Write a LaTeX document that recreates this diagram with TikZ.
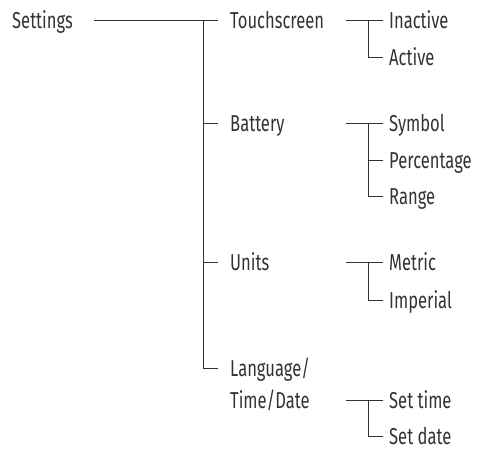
\documentclass[tikz,border=0pt]{standalone}
\usepackage{fontspec}
\setmainfont{Fira Sans}[FakeStretch=0.72]
\begin{document}
\begin{tikzpicture}[x=1pt,y=-1pt,
  lbl/.style={anchor=west, inner xsep=0pt, inner ysep=0pt, text height=16pt, text depth=0pt,
              font=\fontsize{23}{28}\selectfont, text=black!80},
  conn/.style={line width=0.9pt, draw=black!80}]
\useasboundingbox (0,0) rectangle (484,450);
% level 0 and 1
\node[lbl] (settings) at (12,20) {Settings};
\node[lbl] (touch) at (230,20) {Touchscreen};
\node[lbl] (battery) at (230,123) {Battery};
\node[lbl] (units) at (230,262) {Units};
\node[lbl] (lang) at (230,368) {Language/};
\node[lbl] (timedate) at (230,400) {Time/Date};
% level 2
\node[lbl] (inactive) at (389,20) {Inactive};
\node[lbl] (active) at (389,57) {Active};
\node[lbl] (symbol) at (389,123) {Symbol};
\node[lbl] (percentage) at (389,160) {Percentage};
\node[lbl] (range) at (389,196) {Range};
\node[lbl] (metric) at (389,262) {Metric};
\node[lbl] (imperial) at (389,300) {Imperial};
\node[lbl] (settime) at (389,400) {Set time};
\node[lbl] (setdate) at (389,436) {Set date};
% trunk
\coordinate (s0) at (94,20);
\coordinate (t0) at (203,20);
\coordinate (t1) at (203,368);
\draw[conn] (s0) -- ([xshift=-12pt]touch.west);
\draw[conn] (t0) -- (t1) -- ([xshift=-12pt]lang.west);
\draw[conn] (t0 |- battery.west) -- ([xshift=-12pt]battery.west);
\draw[conn] (t0 |- units.west) -- ([xshift=-12pt]units.west);
% sub-branches
\coordinate (a0) at (346,20);
\coordinate (b0) at (346,123);
\coordinate (c0) at (346,262);
\coordinate (d0) at (346,400);
\draw[conn] (a0) -- ([xshift=-6pt]inactive.west);
\draw[conn] ([xshift=-21pt]inactive.west) |- ([xshift=-6pt]active.west);
\draw[conn] (b0) -- ([xshift=-6pt]symbol.west);
\draw[conn] ([xshift=-21pt]symbol.west) |- ([xshift=-6pt]range.west);
\draw[conn] ([xshift=-21pt]percentage.west) -- ([xshift=-6pt]percentage.west);
\draw[conn] (c0) -- ([xshift=-6pt]metric.west);
\draw[conn] ([xshift=-21pt]metric.west) |- ([xshift=-6pt]imperial.west);
\draw[conn] (d0) -- ([xshift=-6pt]settime.west);
\draw[conn] ([xshift=-21pt]settime.west) |- ([xshift=-6pt]setdate.west);
\end{tikzpicture}
\end{document}
